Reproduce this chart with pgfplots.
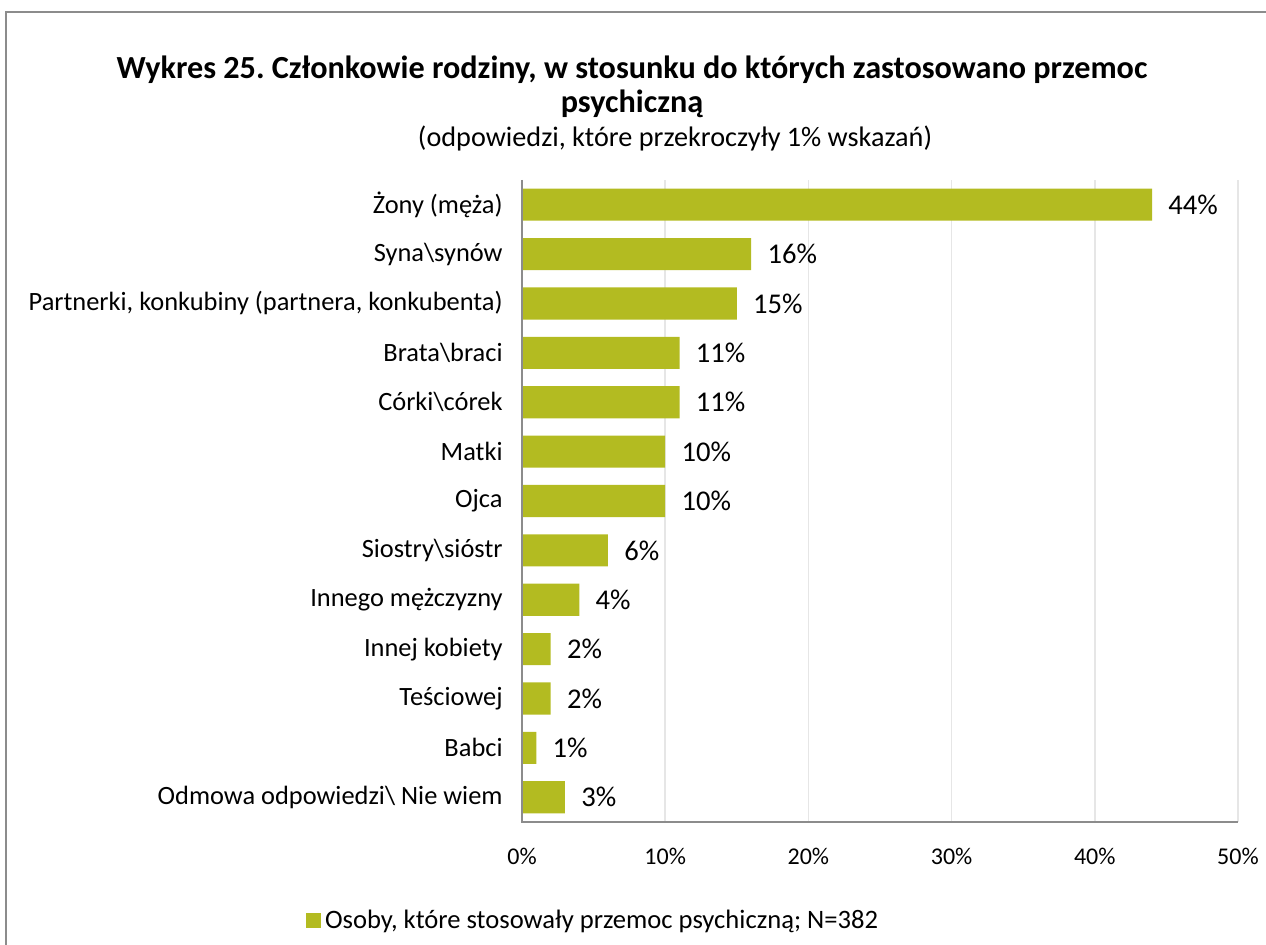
\documentclass[border=0pt]{standalone}
\usepackage{pgfplots}
\pgfplotsset{compat=1.18}
\usepackage{fontspec}
\setmainfont{Carlito}
\frenchspacing
\definecolor{barc}{HTML}{B3BB21}
\definecolor{gridc}{HTML}{E6E6E6}
\definecolor{axc}{HTML}{8C8C8C}
\begin{document}
\begin{tikzpicture}
\useasboundingbox (0,0) rectangle (633pt,472.5pt);
\draw[axc, line width=1pt] (3pt,-1pt) -- (3pt,466.5pt) -- (634pt,466.5pt);
\node[anchor=base, font=\fontsize{16.1}{19}\selectfont\bfseries] at (316pt,433pt) {Wykres 25. Członkowie rodziny, w stosunku do których zastosowano przemoc};
\node[anchor=base, font=\fontsize{16.1}{19}\selectfont\bfseries] at (316pt,416pt) {psychiczną};
\node[anchor=base, font=\fontsize{14.1}{17}\selectfont] at (337.5pt,399pt) {(odpowiedzi, które przekroczyły 1\% wskazań)};
\begin{axis}[
  at={(261pt,61.5pt)}, anchor=south west, scale only axis,
  width=358pt, height=321pt,
  xbar, bar width=0.65,
  xmin=0, xmax=50,
  ymin=-0.5, ymax=12.5, y dir=reverse,
  ytick={0,...,12},
  yticklabels={Żony (męża),Syna\textbackslash synów,{Partnerki, konkubiny (partnera, konkubenta)},Brata\textbackslash braci,Córki\textbackslash córek,Matki,Ojca,Siostry\textbackslash sióstr,Innego mężczyzny,Innej kobiety,Teściowej,Babci,Odmowa odpowiedzi\textbackslash{} Nie wiem},
  xtick={0,10,20,30,40,50},
  xticklabels={0\%,10\%,20\%,30\%,40\%,50\%},
  major tick length=0pt,
  axis line style={draw=none},
  xmajorgrids, grid style={gridc, line width=0.8pt},
  yticklabel style={font=\fontsize{13.2}{15}\selectfont, anchor=east, inner sep=0pt, xshift=-9.5pt},
  xticklabel style={font=\fontsize{12}{14}\selectfont, anchor=north, inner sep=0pt, yshift=-13pt},
  /pgf/number format/assume math mode=true,
  nodes near coords={\pgfmathprintnumber{\pgfplotspointmeta}\%},
  nodes near coords align={horizontal},
  every node near coord/.append style={font=\fontsize{14.3}{17}\selectfont, inner sep=0pt, xshift=8pt, anchor=west},
  point meta=x,
  legend style={at={(0.1006,-0.154)}, anchor=center, draw=none, fill=none, font=\fontsize{13.3}{16}\selectfont, inner sep=0pt},
  legend cell align=left,
  clip=false,
]
\addplot[fill=barc, draw=none, legend image code/.code={\fill[barc] (0pt,-3.75pt) rectangle (7.5pt,3.75pt);}] coordinates {
(44,0) (16,1) (15,2) (11,3) (11,4) (10,5) (10,6) (6,7) (4,8) (2,9) (2,10) (1,11) (3,12)
};
\addlegendentry{Osoby, które stosowały przemoc psychiczną; N=382}
\draw[axc, line width=1pt] (axis cs:0,-0.5) -- (axis cs:0,12.5) -- (axis cs:50,12.5);
\end{axis}
\end{tikzpicture}
\end{document}
